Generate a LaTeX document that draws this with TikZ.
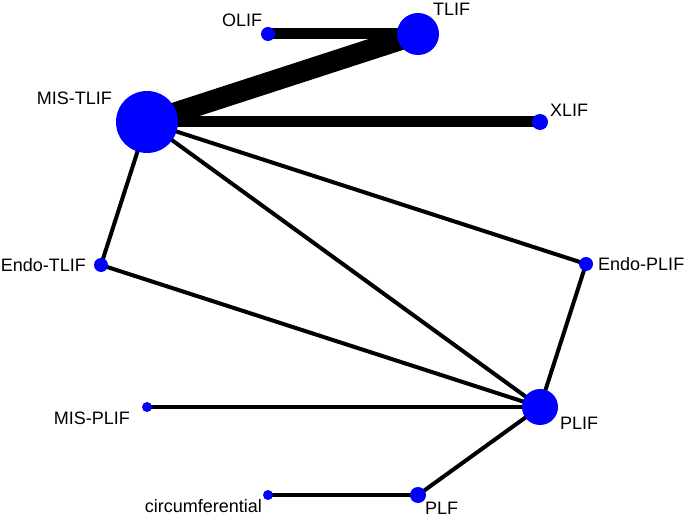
\documentclass[tikz,border=0pt]{standalone}
\usepackage{fontspec}
\setmainfont{Liberation Sans}
\usepackage{tikz}
\usetikzlibrary{backgrounds}
\definecolor{netBlue}{RGB}{0,0,255}

\begin{document}
\begin{tikzpicture}[x=1pt, y=-1pt,
    netnode/.style={circle, fill=netBlue, inner sep=0pt},
    netlbl/.style={inner sep=0pt, font=\fontsize{18}{21}\selectfont},
    edge/.style={line width=4pt, black}]
    \useasboundingbox (0,0) rectangle (685,518);

    % Nodos
    \node[netnode, minimum size=14] (olif) at (268,34) {};
    \node[netnode, minimum size=42] (tlif) at (418,34) {};
    \node[netnode, minimum size=62] (mistlif) at (147,122) {};
    \node[netnode, minimum size=16] (xlif) at (540,122) {};
    \node[netnode, minimum size=14] (endotlif) at (101,265) {};
    \node[netnode, minimum size=14] (endoplif) at (586,264) {};
    \node[netnode, minimum size=10] (misplif) at (147,407) {};
    \node[netnode, minimum size=36] (plif) at (540,407) {};
    \node[netnode, minimum size=10] (circ) at (268,495) {};
    \node[netnode, minimum size=16] (plf) at (418,495) {};

    % Etiquetas
    \node[netlbl, anchor=west] (olifl) at (222,20) {OLIF};
    \node[netlbl, anchor=west] (tlifl) at (433,9) {TLIF};
    \node[netlbl, anchor=east] (mistlifl) at (112,98) {MIS-TLIF};
    \node[netlbl, anchor=west] (xlifl) at (550,110) {XLIF};
    \node[netlbl, anchor=east] (endotlifl) at (86,265) {Endo-TLIF};
    \node[netlbl, anchor=west] (endoplifl) at (598,264) {Endo-PLIF};
    \node[netlbl, anchor=east] (misplifl) at (130,418) {MIS-PLIF};
    \node[netlbl, anchor=west] (plifl) at (560,423) {PLIF};
    \node[netlbl, anchor=east] (circl) at (262,506) {circumferential};
    \node[netlbl, anchor=west] (plfl) at (425,508) {PLF};

    % Aristas
    \begin{scope}[on background layer]
        \draw[edge, line width=21pt] (mistlif.center) -- (tlif.center);
        \draw[edge, line width=11pt] (olif.center) -- (tlif.center);
        \draw[edge, line width=11pt] (mistlif.center) -- (xlif.center);
        \draw[edge] (mistlif.center) -- (endotlif.center);
        \draw[edge] (mistlif.center) -- (endoplif.center);
        \draw[edge] (mistlif.center) -- (plif.center);
        \draw[edge] (endotlif.center) -- (plif.center);
        \draw[edge] (endoplif.center) -- (plif.center);
        \draw[edge] (misplif.center) -- (plif.center);
        \draw[edge] (plif.center) -- (plf.center);
        \draw[edge] (plf.center) -- (circ.center);
    \end{scope}
\end{tikzpicture}
\end{document}
